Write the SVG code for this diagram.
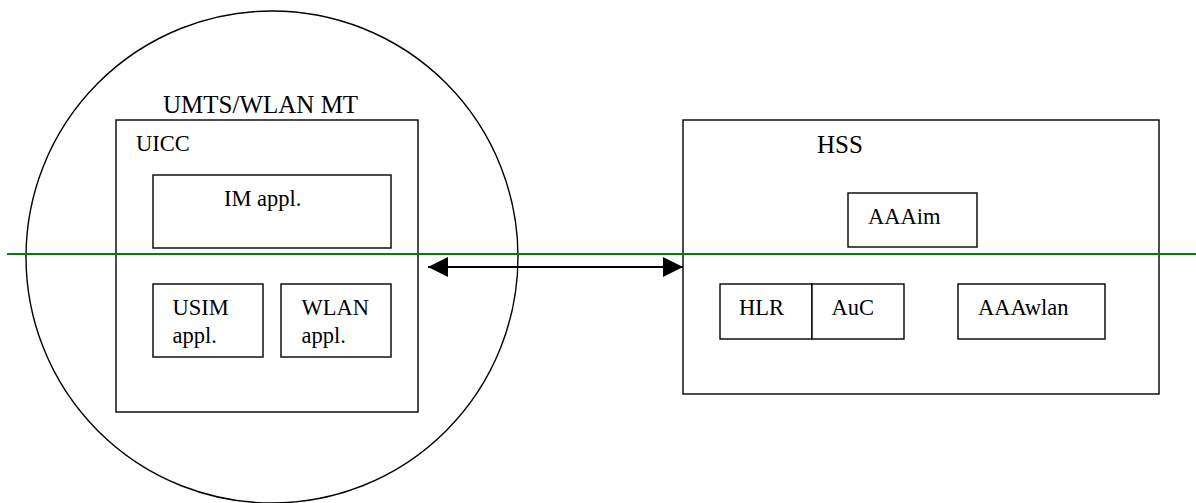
<svg xmlns="http://www.w3.org/2000/svg" width="1196" height="503" viewBox="0 0 1196 503">
<defs>
<style>
.box{fill:#fff;stroke:#000;stroke-width:1.4}
.frame{fill:none;stroke:#000;stroke-width:1.4}
.t{font-family:"Liberation Serif","Times New Roman",serif;font-size:22.5px;fill:#000}
.big{font-size:25px}
</style>
<marker id="ah" markerWidth="20" markerHeight="20" viewBox="0 0 20 20" refX="20" refY="10" orient="auto-start-reverse" markerUnits="userSpaceOnUse">
<path d="M0,0 L20,10 L0,20 Z" fill="#000"/>
</marker>
</defs>
<rect width="1196" height="503" fill="#fff"/>
<g id="mt">
<circle cx="272" cy="257" r="246" class="frame"/>
<text class="t big" x="163" y="113">UMTS/WLAN MT</text>
</g>
<g id="uicc">
<rect x="116" y="120" width="302" height="292" class="box"/>
<text class="t" x="136" y="151">UICC</text>
</g>
<g id="im">
<rect x="153" y="175" width="238" height="73" class="box"/>
<text class="t" x="224" y="206">IM appl.</text>
</g>
<g id="usim">
<rect x="153" y="284" width="110" height="73" class="box"/>
<text class="t" x="172.5" y="315">USIM</text>
<text class="t" x="172.5" y="343">appl.</text>
</g>
<g id="wlan">
<rect x="281" y="284" width="110" height="73" class="box"/>
<text class="t" x="301.5" y="315">WLAN</text>
<text class="t" x="301.5" y="343">appl.</text>
</g>
<g id="hss">
<rect x="683" y="120" width="476" height="274" class="box"/>
<text class="t big" x="817" y="153">HSS</text>
</g>
<g id="aaaim">
<rect x="848" y="193" width="129" height="54" class="box"/>
<text class="t" x="868" y="224">AAAim</text>
</g>
<g id="hlr">
<rect x="720" y="284" width="92" height="55" class="box"/>
<text class="t" x="739" y="315">HLR</text>
</g>
<g id="auc">
<rect x="812" y="284" width="92" height="55" class="box"/>
<text class="t" x="831.5" y="315">AuC</text>
</g>
<g id="aaawlan">
<rect x="958" y="284" width="147" height="55" class="box"/>
<text class="t" x="978" y="315">AAAwlan</text>
</g>
<g id="connectors">
<line x1="7" y1="254" x2="1196" y2="254" stroke="#008000" stroke-width="2"/>
<line x1="428" y1="267" x2="683" y2="267" stroke="#000" stroke-width="2" marker-start="url(#ah)" marker-end="url(#ah)"/>
</g>
</svg>
